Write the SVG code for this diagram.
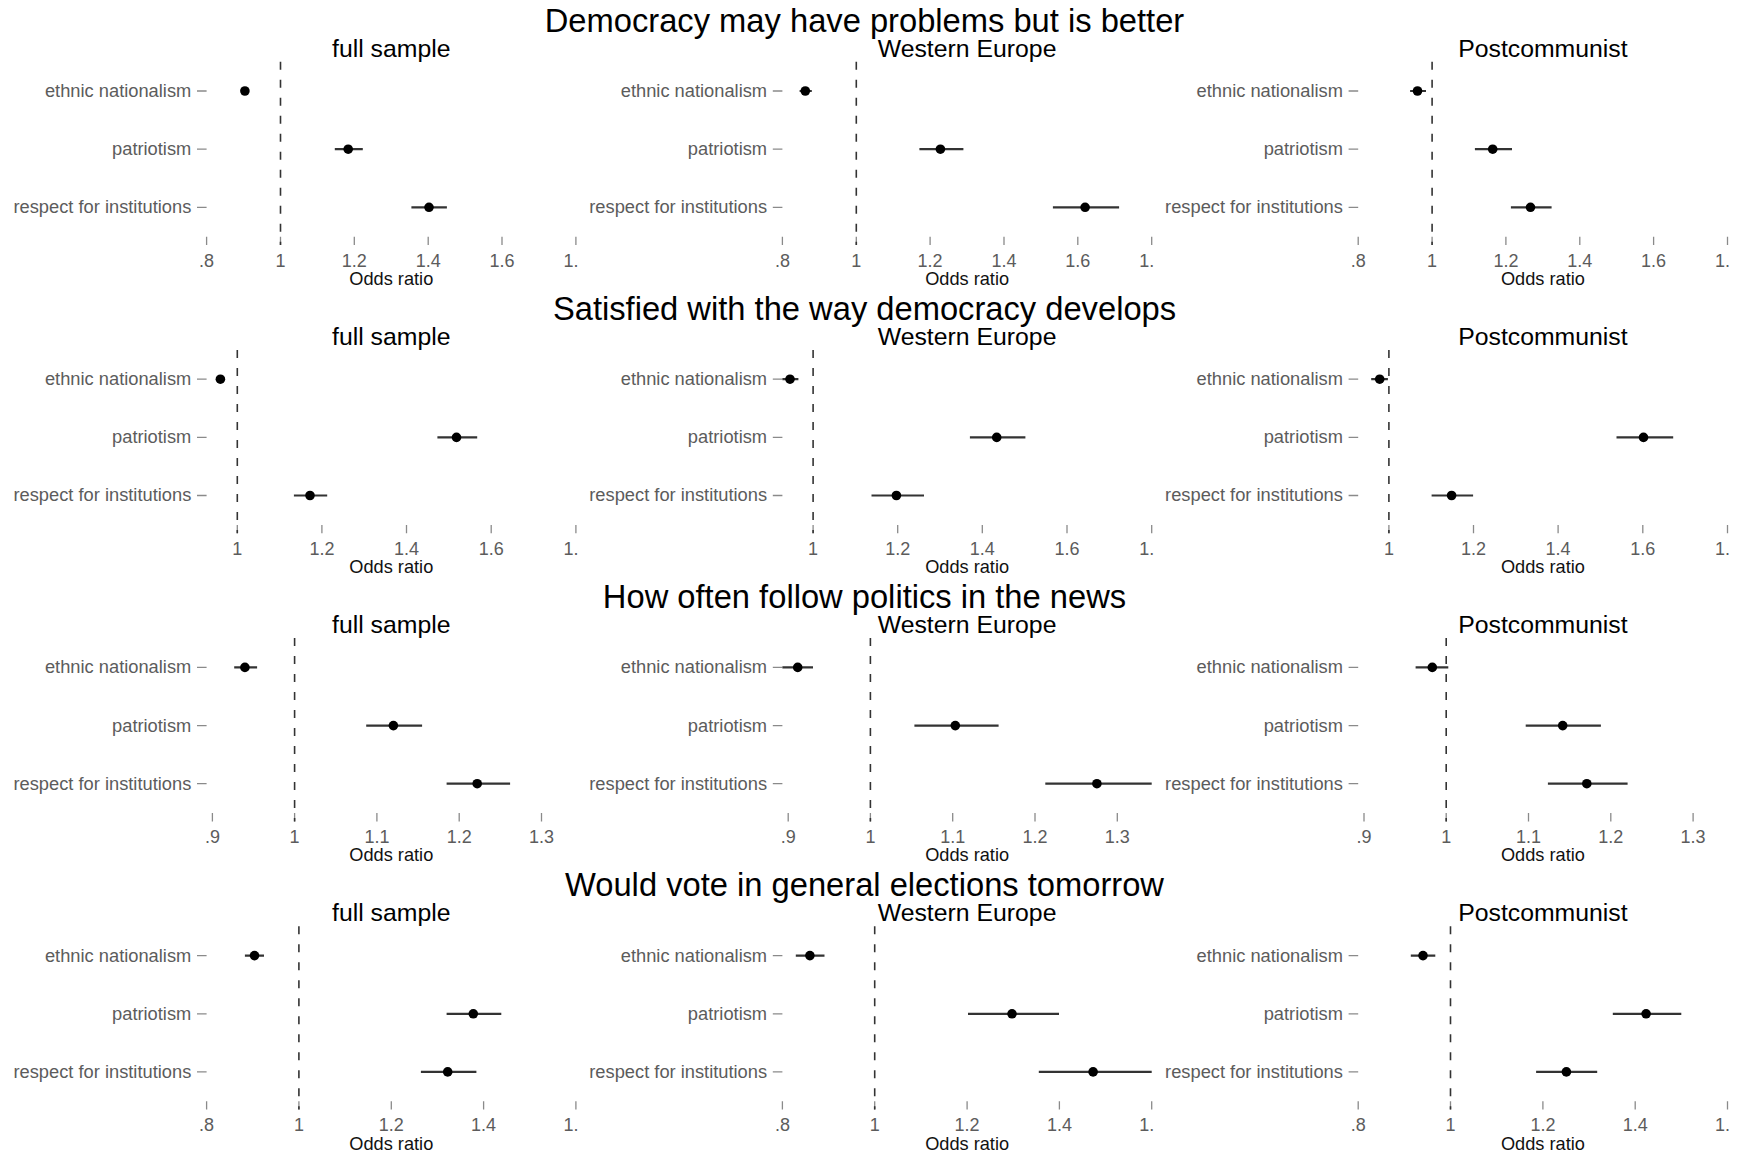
<svg xmlns="http://www.w3.org/2000/svg" width="1741" height="1155" viewBox="0 0 1741 1155">
<style>
text{font-family:"Liberation Sans",Arial,sans-serif}
.main{font-size:32.7px;fill:#000;text-anchor:middle}
.sub{font-size:24.8px;fill:#000;text-anchor:middle}
.lab{font-size:18.3px;fill:#5c5c5c;text-anchor:end}
.tl{font-size:18px;fill:#5c5c5c;text-anchor:middle}
.xt{font-size:18.2px;fill:#111;text-anchor:middle}
.tk{stroke:#8a8a8a;stroke-width:1.3}
.ref{stroke:#333;stroke-width:1.6;stroke-dasharray:8 10}
.ci{stroke:#333;stroke-width:2.2}
.dot{fill:#000}
</style>
<defs>
<clipPath id="pc" clipPathUnits="userSpaceOnUse"><rect x="0" y="0" width="578.2" height="292"/></clipPath>
</defs>
<rect width="1741" height="1155" fill="#fff"/>

<!-- Row 1 -->
<g id="r1c1" transform="translate(0,0)" clip-path="url(#pc)">
<text class="sub" x="391.3" y="56.7">full sample</text>
<text class="lab" x="191.3" y="97">ethnic nationalism</text>
<text class="lab" x="191.3" y="155.2">patriotism</text>
<text class="lab" x="191.3" y="213.3">respect for institutions</text>
<path class="tk" d="M197 91H206.6M197 149.2H206.6M197 207.3H206.6M206.6 236.7V245M280.5 236.7V245M354.3 236.7V245M428.2 236.7V245M502 236.7V245M575.9 236.7V245"/>
<text class="tl" x="206.6" y="266.7">.8</text><text class="tl" x="280.5" y="266.7">1</text><text class="tl" x="354.3" y="266.7">1.2</text><text class="tl" x="428.2" y="266.7">1.4</text><text class="tl" x="502" y="266.7">1.6</text><text class="tl" x="575.9" y="266.7">1.8</text>
<text class="xt" x="391.3" y="285">Odds ratio</text>
<line class="ref" x1="280.5" y1="61.7" x2="280.5" y2="245"/>
<g id="r1c1-data">
<path class="ci" d="M241.5 91H248.3M334.8 149.2H362.8M411.4 207.3H446.9"/>
<circle class="dot" cx="244.9" cy="91" r="4.8"/><circle class="dot" cx="348.2" cy="149.2" r="4.8"/><circle class="dot" cx="429" cy="207.3" r="4.8"/>
</g>
</g>
<g id="r1c2" transform="translate(575.8,0)" clip-path="url(#pc)">
<text class="sub" x="391.3" y="56.7">Western Europe</text>
<text class="lab" x="191.3" y="97">ethnic nationalism</text>
<text class="lab" x="191.3" y="155.2">patriotism</text>
<text class="lab" x="191.3" y="213.3">respect for institutions</text>
<path class="tk" d="M197 91H206.6M197 149.2H206.6M197 207.3H206.6M206.6 236.7V245M280.5 236.7V245M354.3 236.7V245M428.2 236.7V245M502 236.7V245M575.9 236.7V245"/>
<text class="tl" x="206.6" y="266.7">.8</text><text class="tl" x="280.5" y="266.7">1</text><text class="tl" x="354.3" y="266.7">1.2</text><text class="tl" x="428.2" y="266.7">1.4</text><text class="tl" x="502" y="266.7">1.6</text><text class="tl" x="575.9" y="266.7">1.8</text>
<text class="xt" x="391.3" y="285">Odds ratio</text>
<line class="ref" x1="280.5" y1="61.7" x2="280.5" y2="245"/>
<g id="r1c2-data">
<path class="ci" d="M223.8 91H236M343.6 149.2H387.6M477.1 207.3H543.3"/>
<circle class="dot" cx="229.5" cy="91" r="4.8"/><circle class="dot" cx="364.6" cy="149.2" r="4.8"/><circle class="dot" cx="509.3" cy="207.3" r="4.8"/>
</g>
</g>
<g id="r1c3" transform="translate(1151.6,0)" clip-path="url(#pc)">
<text class="sub" x="391.3" y="56.7">Postcommunist</text>
<text class="lab" x="191.3" y="97">ethnic nationalism</text>
<text class="lab" x="191.3" y="155.2">patriotism</text>
<text class="lab" x="191.3" y="213.3">respect for institutions</text>
<path class="tk" d="M197 91H206.6M197 149.2H206.6M197 207.3H206.6M206.6 236.7V245M280.5 236.7V245M354.3 236.7V245M428.2 236.7V245M502 236.7V245M575.9 236.7V245"/>
<text class="tl" x="206.6" y="266.7">.8</text><text class="tl" x="280.5" y="266.7">1</text><text class="tl" x="354.3" y="266.7">1.2</text><text class="tl" x="428.2" y="266.7">1.4</text><text class="tl" x="502" y="266.7">1.6</text><text class="tl" x="575.9" y="266.7">1.8</text>
<text class="xt" x="391.3" y="285">Odds ratio</text>
<line class="ref" x1="280.5" y1="61.7" x2="280.5" y2="245"/>
<g id="r1c3-data">
<path class="ci" d="M258.5 91H274.4M323.3 149.2H360.4M359.3 207.3H400"/>
<circle class="dot" cx="265.9" cy="91" r="4.8"/><circle class="dot" cx="341.1" cy="149.2" r="4.8"/><circle class="dot" cx="378.9" cy="207.3" r="4.8"/>
</g>
</g>

<!-- Row 2 -->
<g id="r2c1" transform="translate(0,288.2)" clip-path="url(#pc)">
<text class="sub" x="391.3" y="56.7">full sample</text>
<text class="lab" x="191.3" y="97">ethnic nationalism</text>
<text class="lab" x="191.3" y="155.2">patriotism</text>
<text class="lab" x="191.3" y="213.3">respect for institutions</text>
<path class="tk" d="M197 91H206.6M197 149.2H206.6M197 207.3H206.6M237.3 236.7V245M321.9 236.7V245M406.5 236.7V245M491.2 236.7V245M575.9 236.7V245"/>
<text class="tl" x="237.3" y="266.7">1</text><text class="tl" x="321.9" y="266.7">1.2</text><text class="tl" x="406.5" y="266.7">1.4</text><text class="tl" x="491.2" y="266.7">1.6</text><text class="tl" x="575.9" y="266.7">1.8</text>
<text class="xt" x="391.3" y="285">Odds ratio</text>
<line class="ref" x1="237.3" y1="61.7" x2="237.3" y2="245"/>
<g id="r2c1-data">
<path class="ci" d="M216.8 91H224M437.4 149.2H477.2M293.9 207.3H327.2"/>
<circle class="dot" cx="220.4" cy="91" r="4.8"/><circle class="dot" cx="456.5" cy="149.2" r="4.8"/><circle class="dot" cx="310" cy="207.3" r="4.8"/>
</g>
</g>
<g id="r2c2" transform="translate(575.8,288.2)" clip-path="url(#pc)">
<text class="sub" x="391.3" y="56.7">Western Europe</text>
<text class="lab" x="191.3" y="97">ethnic nationalism</text>
<text class="lab" x="191.3" y="155.2">patriotism</text>
<text class="lab" x="191.3" y="213.3">respect for institutions</text>
<path class="tk" d="M197 91H206.6M197 149.2H206.6M197 207.3H206.6M237.3 236.7V245M321.9 236.7V245M406.5 236.7V245M491.2 236.7V245M575.9 236.7V245"/>
<text class="tl" x="237.3" y="266.7">1</text><text class="tl" x="321.9" y="266.7">1.2</text><text class="tl" x="406.5" y="266.7">1.4</text><text class="tl" x="491.2" y="266.7">1.6</text><text class="tl" x="575.9" y="266.7">1.8</text>
<text class="xt" x="391.3" y="285">Odds ratio</text>
<line class="ref" x1="237.3" y1="61.7" x2="237.3" y2="245"/>
<g id="r2c2-data">
<path class="ci" d="M206.6 91H222.6M394.1 149.2H449.6M295.7 207.3H348.2"/>
<circle class="dot" cx="214.2" cy="91" r="4.8"/><circle class="dot" cx="420.9" cy="149.2" r="4.8"/><circle class="dot" cx="320.6" cy="207.3" r="4.8"/>
</g>
</g>
<g id="r2c3" transform="translate(1151.6,288.2)" clip-path="url(#pc)">
<text class="sub" x="391.3" y="56.7">Postcommunist</text>
<text class="lab" x="191.3" y="97">ethnic nationalism</text>
<text class="lab" x="191.3" y="155.2">patriotism</text>
<text class="lab" x="191.3" y="213.3">respect for institutions</text>
<path class="tk" d="M197 91H206.6M197 149.2H206.6M197 207.3H206.6M237.3 236.7V245M321.9 236.7V245M406.5 236.7V245M491.2 236.7V245M575.9 236.7V245"/>
<text class="tl" x="237.3" y="266.7">1</text><text class="tl" x="321.9" y="266.7">1.2</text><text class="tl" x="406.5" y="266.7">1.4</text><text class="tl" x="491.2" y="266.7">1.6</text><text class="tl" x="575.9" y="266.7">1.8</text>
<text class="xt" x="391.3" y="285">Odds ratio</text>
<line class="ref" x1="237.3" y1="61.7" x2="237.3" y2="245"/>
<g id="r2c3-data">
<path class="ci" d="M219.6 91H236.3M464.9 149.2H521.6M280 207.3H321.5"/>
<circle class="dot" cx="228.1" cy="91" r="4.8"/><circle class="dot" cx="491.9" cy="149.2" r="4.8"/><circle class="dot" cx="300" cy="207.3" r="4.8"/>
</g>
</g>

<!-- Row 3 -->
<g id="r3c1" transform="translate(0,576.4)" clip-path="url(#pc)">
<text class="sub" x="391.3" y="56.7">full sample</text>
<text class="lab" x="191.3" y="97">ethnic nationalism</text>
<text class="lab" x="191.3" y="155.2">patriotism</text>
<text class="lab" x="191.3" y="213.3">respect for institutions</text>
<path class="tk" d="M197 91H206.6M197 149.2H206.6M197 207.3H206.6M212.4 236.7V245M294.6 236.7V245M376.9 236.7V245M459.2 236.7V245M541.5 236.7V245"/>
<text class="tl" x="212.4" y="266.7">.9</text><text class="tl" x="294.6" y="266.7">1</text><text class="tl" x="376.9" y="266.7">1.1</text><text class="tl" x="459.2" y="266.7">1.2</text><text class="tl" x="541.5" y="266.7">1.3</text>
<text class="xt" x="391.3" y="285">Odds ratio</text>
<line class="ref" x1="294.6" y1="61.7" x2="294.6" y2="245"/>
<g id="r3c1-data">
<path class="ci" d="M234.2 91H257.1M366.2 149.2H422.1M446.6 207.3H510.1"/>
<circle class="dot" cx="244.9" cy="91" r="4.8"/><circle class="dot" cx="393.4" cy="149.2" r="4.8"/><circle class="dot" cx="477.2" cy="207.3" r="4.8"/>
</g>
</g>
<g id="r3c2" transform="translate(575.8,576.4)" clip-path="url(#pc)">
<text class="sub" x="391.3" y="56.7">Western Europe</text>
<text class="lab" x="191.3" y="97">ethnic nationalism</text>
<text class="lab" x="191.3" y="155.2">patriotism</text>
<text class="lab" x="191.3" y="213.3">respect for institutions</text>
<path class="tk" d="M197 91H206.6M197 149.2H206.6M197 207.3H206.6M212.4 236.7V245M294.6 236.7V245M376.9 236.7V245M459.2 236.7V245M541.5 236.7V245"/>
<text class="tl" x="212.4" y="266.7">.9</text><text class="tl" x="294.6" y="266.7">1</text><text class="tl" x="376.9" y="266.7">1.1</text><text class="tl" x="459.2" y="266.7">1.2</text><text class="tl" x="541.5" y="266.7">1.3</text>
<text class="xt" x="391.3" y="285">Odds ratio</text>
<line class="ref" x1="294.6" y1="61.7" x2="294.6" y2="245"/>
<g id="r3c2-data">
<path class="ci" d="M206.6 91H237.2M338.6 149.2H422.8M469.5 207.3H575.9"/>
<circle class="dot" cx="221.9" cy="91" r="4.8"/><circle class="dot" cx="379.5" cy="149.2" r="4.8"/><circle class="dot" cx="521.1" cy="207.3" r="4.8"/>
</g>
</g>
<g id="r3c3" transform="translate(1151.6,576.4)" clip-path="url(#pc)">
<text class="sub" x="391.3" y="56.7">Postcommunist</text>
<text class="lab" x="191.3" y="97">ethnic nationalism</text>
<text class="lab" x="191.3" y="155.2">patriotism</text>
<text class="lab" x="191.3" y="213.3">respect for institutions</text>
<path class="tk" d="M197 91H206.6M197 149.2H206.6M197 207.3H206.6M212.4 236.7V245M294.6 236.7V245M376.9 236.7V245M459.2 236.7V245M541.5 236.7V245"/>
<text class="tl" x="212.4" y="266.7">.9</text><text class="tl" x="294.6" y="266.7">1</text><text class="tl" x="376.9" y="266.7">1.1</text><text class="tl" x="459.2" y="266.7">1.2</text><text class="tl" x="541.5" y="266.7">1.3</text>
<text class="xt" x="391.3" y="285">Odds ratio</text>
<line class="ref" x1="294.6" y1="61.7" x2="294.6" y2="245"/>
<g id="r3c3-data">
<path class="ci" d="M264 91H296.7M374.1 149.2H449.3M396.3 207.3H476"/>
<circle class="dot" cx="280.7" cy="91" r="4.8"/><circle class="dot" cx="411.1" cy="149.2" r="4.8"/><circle class="dot" cx="435.2" cy="207.3" r="4.8"/>
</g>
</g>

<!-- Row 4 -->
<g id="r4c1" transform="translate(0,864.6)" clip-path="url(#pc)">
<text class="sub" x="391.3" y="56.7">full sample</text>
<text class="lab" x="191.3" y="97">ethnic nationalism</text>
<text class="lab" x="191.3" y="155.2">patriotism</text>
<text class="lab" x="191.3" y="213.3">respect for institutions</text>
<path class="tk" d="M197 91H206.6M197 149.2H206.6M197 207.3H206.6M206.6 236.7V245M298.9 236.7V245M391.3 236.7V245M483.6 236.7V245M575.9 236.7V245"/>
<text class="tl" x="206.6" y="266.7">.8</text><text class="tl" x="298.9" y="266.7">1</text><text class="tl" x="391.3" y="266.7">1.2</text><text class="tl" x="483.6" y="266.7">1.4</text><text class="tl" x="575.9" y="266.7">1.6</text>
<text class="xt" x="391.3" y="285">Odds ratio</text>
<line class="ref" x1="298.9" y1="61.7" x2="298.9" y2="245"/>
<g id="r4c1-data">
<path class="ci" d="M244.9 91H264M446.6 149.2H501.3M420.9 207.3H476.4"/>
<circle class="dot" cx="254.5" cy="91" r="4.8"/><circle class="dot" cx="473.3" cy="149.2" r="4.8"/><circle class="dot" cx="447.7" cy="207.3" r="4.8"/>
</g>
</g>
<g id="r4c2" transform="translate(575.8,864.6)" clip-path="url(#pc)">
<text class="sub" x="391.3" y="56.7">Western Europe</text>
<text class="lab" x="191.3" y="97">ethnic nationalism</text>
<text class="lab" x="191.3" y="155.2">patriotism</text>
<text class="lab" x="191.3" y="213.3">respect for institutions</text>
<path class="tk" d="M197 91H206.6M197 149.2H206.6M197 207.3H206.6M206.6 236.7V245M298.9 236.7V245M391.3 236.7V245M483.6 236.7V245M575.9 236.7V245"/>
<text class="tl" x="206.6" y="266.7">.8</text><text class="tl" x="298.9" y="266.7">1</text><text class="tl" x="391.3" y="266.7">1.2</text><text class="tl" x="483.6" y="266.7">1.4</text><text class="tl" x="575.9" y="266.7">1.6</text>
<text class="xt" x="391.3" y="285">Odds ratio</text>
<line class="ref" x1="298.9" y1="61.7" x2="298.9" y2="245"/>
<g id="r4c2-data">
<path class="ci" d="M220 91H248.7M392.2 149.2H483.2M463 207.3H575.9"/>
<circle class="dot" cx="234.1" cy="91" r="4.8"/><circle class="dot" cx="436.2" cy="149.2" r="4.8"/><circle class="dot" cx="517.3" cy="207.3" r="4.8"/>
</g>
</g>
<g id="r4c3" transform="translate(1151.6,864.6)" clip-path="url(#pc)">
<text class="sub" x="391.3" y="56.7">Postcommunist</text>
<text class="lab" x="191.3" y="97">ethnic nationalism</text>
<text class="lab" x="191.3" y="155.2">patriotism</text>
<text class="lab" x="191.3" y="213.3">respect for institutions</text>
<path class="tk" d="M197 91H206.6M197 149.2H206.6M197 207.3H206.6M206.6 236.7V245M298.9 236.7V245M391.3 236.7V245M483.6 236.7V245M575.9 236.7V245"/>
<text class="tl" x="206.6" y="266.7">.8</text><text class="tl" x="298.9" y="266.7">1</text><text class="tl" x="391.3" y="266.7">1.2</text><text class="tl" x="483.6" y="266.7">1.4</text><text class="tl" x="575.9" y="266.7">1.6</text>
<text class="xt" x="391.3" y="285">Odds ratio</text>
<line class="ref" x1="298.9" y1="61.7" x2="298.9" y2="245"/>
<g id="r4c3-data">
<path class="ci" d="M259.2 91H283.7M461.2 149.2H529.7M384.5 207.3H445.6"/>
<circle class="dot" cx="271.4" cy="91" r="4.8"/><circle class="dot" cx="494.5" cy="149.2" r="4.8"/><circle class="dot" cx="414.8" cy="207.3" r="4.8"/>
</g>
</g>

<g id="titles">
<text class="main" x="864.5" y="31.5">Democracy may have problems but is better</text>
<text class="main" x="864.5" y="319.7">Satisfied with the way democracy develops</text>
<text class="main" x="864.5" y="607.9">How often follow politics in the news</text>
<text class="main" x="864.5" y="896.1">Would vote in general elections tomorrow</text>
</g>
</svg>
